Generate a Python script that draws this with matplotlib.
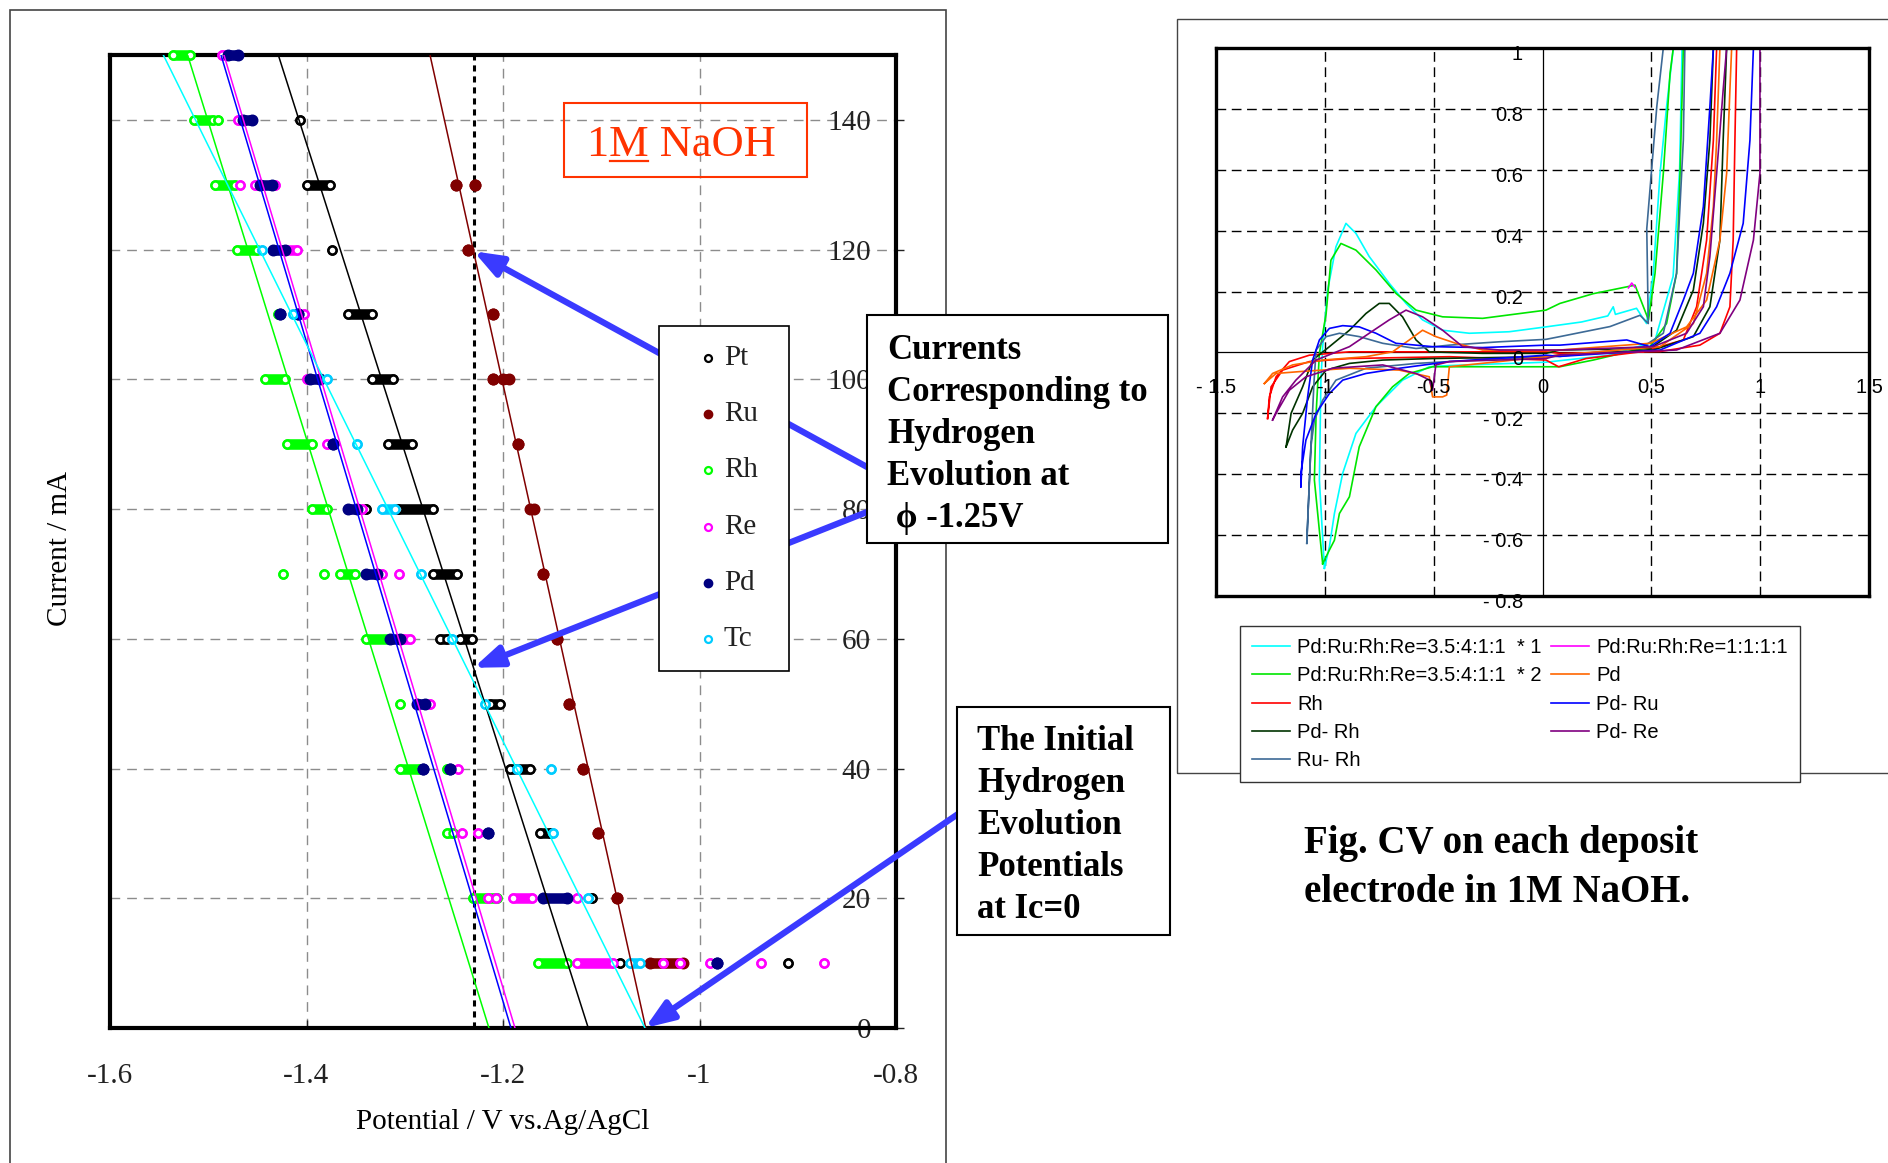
import matplotlib
matplotlib.use('Agg')
import matplotlib.pyplot as plt
from matplotlib.patches import Rectangle
from matplotlib.lines import Line2D

W, H = 1888, 1163
plt.rcParams['font.family'] = ['Liberation Serif', 'DejaVu Serif']

# ---------------- left chart: current vs potential ----------------
metals = ['Pt', 'Ru', 'Rh', 'Re', 'Pd', 'Tc']
marker_colors = ['#000000', '#800000', '#00ff00', '#ff00ff', '#000080', '#00ccff']
marker_filled = [False, True, False, False, True, False]
fit_colors = ['#000000', '#800000', '#00ff00', '#ff00ff', '#0000ff', '#00ffff']
# trend lines: potential at I = 150 mA and at I = 0
fit_top_current = 150
fit_v_top = [-1.4287, -1.2743, -1.521, -1.484, -1.487, -1.5457]
fit_v_zero = [-1.1132, -1.0547, -1.2143, -1.1878, -1.1919, -1.0555]

# measured points: (current mA, potential start, potential end) -- runs of overlapping points
pt_pts = [(140, -1.4066, -1.4066), (130, -1.399, -1.376), (120, -1.374, -1.374),
          (110, -1.358, -1.333), (100, -1.333, -1.312), (90, -1.317, -1.293),
          (80, -1.339, -1.339), (80, -1.307, -1.271), (70, -1.271, -1.247),
          (60, -1.264, -1.257), (60, -1.244, -1.232), (50, -1.213, -1.203),
          (40, -1.193, -1.173), (30, -1.162, -1.152), (20, -1.109, -1.109),
          (10, -1.081, -1.081), (10, -0.910, -0.910)]
ru_pts = [(130, -1.248, -1.248), (130, -1.229, -1.229), (120, -1.236, -1.236),
          (110, -1.210, -1.210), (100, -1.210, -1.210), (100, -1.200, -1.194),
          (90, -1.1847, -1.1847), (80, -1.173, -1.168), (70, -1.1596, -1.1596),
          (60, -1.1454, -1.1454), (50, -1.1328, -1.1328), (40, -1.1182, -1.1182),
          (30, -1.103, -1.103), (20, -1.084, -1.084), (10, -1.050, -1.017)]
rh_pts = [(150, -1.536, -1.519), (140, -1.515, -1.495), (140, -1.490, -1.490),
          (130, -1.493, -1.473), (120, -1.471, -1.450), (110, -1.429, -1.429),
          (100, -1.442, -1.422), (90, -1.420, -1.394), (80, -1.394, -1.379),
          (70, -1.424, -1.424), (70, -1.382, -1.382), (70, -1.366, -1.351),
          (60, -1.339, -1.315), (50, -1.305, -1.305), (40, -1.305, -1.284),
          (40, -1.257, -1.257), (30, -1.257, -1.251), (20, -1.231, -1.206),
          (10, -1.164, -1.135)]
re_pts = [(150, -1.486, -1.480), (140, -1.470, -1.465), (130, -1.468, -1.468),
          (130, -1.452, -1.447), (130, -1.432, -1.432), (120, -1.422, -1.410),
          (110, -1.403, -1.403), (100, -1.399, -1.399), (90, -1.379, -1.379),
          (80, -1.344, -1.344), (70, -1.323, -1.323), (70, -1.306, -1.306),
          (60, -1.302, -1.295), (50, -1.274, -1.274), (40, -1.246, -1.246),
          (30, -1.242, -1.242), (30, -1.225, -1.225), (20, -1.2156, -1.2156),
          (20, -1.2075, -1.2075), (20, -1.190, -1.170), (20, -1.125, -1.125),
          (10, -1.125, -1.088), (10, -1.037, -1.037), (10, -1.020, -1.020),
          (10, -0.989, -0.989), (10, -0.937, -0.937), (10, -0.873, -0.873)]
pd_pts = [(150, -1.480, -1.470), (140, -1.465, -1.455), (130, -1.447, -1.435),
          (120, -1.434, -1.422), (110, -1.427, -1.427), (110, -1.409, -1.409),
          (100, -1.396, -1.386), (90, -1.373, -1.373), (80, -1.358, -1.349),
          (70, -1.339, -1.328), (60, -1.315, -1.305), (50, -1.288, -1.279),
          (40, -1.281, -1.281), (40, -1.254, -1.254), (30, -1.215, -1.215),
          (20, -1.159, -1.135), (10, -0.982, -0.982)]
tc_pts = [(120, -1.445, -1.445), (110, -1.414, -1.414), (100, -1.379, -1.379),
          (90, -1.349, -1.349), (80, -1.323, -1.310), (70, -1.283, -1.283),
          (60, -1.252, -1.252), (50, -1.218, -1.218), (40, -1.186, -1.186),
          (40, -1.151, -1.151), (30, -1.149, -1.149), (20, -1.113, -1.113),
          (10, -1.071, -1.061)]
point_sets = [pt_pts, ru_pts, rh_pts, re_pts, pd_pts, tc_pts]

phi_v = -1.23          # dashed marker line (labelled phi -1.25 V)
x_ticks = [-1.6, -1.4, -1.2, -1.0, -0.8]
x_tick_labels = ['-1.6', '-1.4', '-1.2', '-1', '-0.8']
y_ticks = [0, 20, 40, 60, 80, 100, 120, 140]

# ---------------- right chart: CV curves ----------------
cv1_v = [-1.002, -1.025, -1.018, -1.010, -0.987, -0.949, -0.903, -0.857, -0.796, -0.704, -0.627,
         -0.551, -0.459, -0.336, -0.153, 0.016, 0.179, 0.300, 0.325, 0.335, 0.432, 0.478, 0.509,
         0.540, 0.570, 0.601, 0.641, 0.630, 0.600, 0.515, 0.300, 0.016, -0.428, -0.520, -0.643,
         -0.765, -0.857, -0.918, -0.956, -0.979, -1.002]
cv1_i = [-0.709, -0.419, -0.091, 0.019, 0.205, 0.347, 0.424, 0.391, 0.315, 0.227, 0.161,
         0.107, 0.073, 0.063, 0.068, 0.084, 0.100, 0.120, 0.150, 0.125, 0.145, 0.095, 0.260,
         0.588, 0.807, 1.0, 1.0, 0.600, 0.250, 0.035, -0.010, -0.032, -0.043, -0.047, -0.091,
         -0.178, -0.266, -0.397, -0.529, -0.638, -0.709]
cv2_v = [-1.010, -1.048, -1.040, -1.025, -0.994, -0.972, -0.926, -0.857, -0.765, -0.673, -0.581,
         -0.459, -0.275, 0.016, 0.080, 0.233, 0.425, 0.487, 0.517, 0.555, 0.586, 0.601, 0.647,
         0.632, 0.616, 0.570, 0.494, 0.233, 0.080, -0.275, -0.505, -0.612, -0.689, -0.765,
         -0.842, -0.887, -0.933, -0.956, -0.979, -1.010]
cv2_i = [-0.694, -0.419, -0.200, -0.003, 0.128, 0.303, 0.358, 0.336, 0.271, 0.194, 0.139,
         0.117, 0.112, 0.139, 0.161, 0.193, 0.221, 0.107, 0.260, 0.588, 0.917, 1.0, 1.0,
         0.588, 0.260, 0.095, 0.019, -0.025, -0.047, -0.047, -0.047, -0.069, -0.113, -0.178,
         -0.310, -0.474, -0.529, -0.617, -0.649, -0.694]
rh_cv_v = [-1.263, -1.255, -1.224, -1.163, -1.071, -0.887, -0.581, 0.016, 0.080, 0.540, 0.723,
           0.815, 0.861, 0.876, 0.884, 0.892, 0.800, 0.785, 0.754, 0.708, 0.647, 0.463, 0.200,
           0.074, 0.016, -0.428, -0.887, -1.071, -1.194, -1.247, -1.263]
rh_cv_i = [-0.217, -0.146, -0.080, -0.030, -0.009, 0.002, 0.002, 0.002, -0.003, 0.003, 0.024,
           0.063, 0.150, 0.369, 0.697, 1.0, 1.0, 0.697, 0.369, 0.150, 0.041, 0.003, -0.020,
           -0.047, -0.025, -0.014, -0.020, -0.030, -0.058, -0.113, -0.217]
pdrh_v = [-1.178, -1.155, -1.102, -1.056, -0.979, -0.887, -0.811, -0.750, -0.704, -0.643, -0.581,
          -0.520, -0.275, 0.016, 0.080, 0.494, 0.616, 0.693, 0.739, 0.769, 0.785, 0.846, 0.830,
          0.815, 0.769, 0.693, 0.509, 0.080, 0.016, -0.505, -0.734, -0.887, -0.994, -1.056,
          -1.102, -1.148, -1.178]
pdrh_i = [-0.310, -0.200, -0.113, -0.025, 0.019, 0.073, 0.128, 0.161, 0.161, 0.117, 0.041,
          0.002, -0.003, -0.003, 0.008, 0.013, 0.073, 0.205, 0.424, 0.697, 1.0, 1.0, 0.697,
          0.369, 0.150, 0.052, 0.008, -0.008, -0.014, -0.020, -0.025, -0.036, -0.058, -0.113,
          -0.200, -0.255, -0.310]
rurh_v = [-1.083, -1.074, -1.064, -1.050, -1.040, -0.994, -0.933, -0.842, -0.734, -0.581, -0.428,
          -0.198, 0.016, 0.080, 0.310, 0.448, 0.486, 0.479, 0.525, 0.555, 0.654, 0.647, 0.616,
          0.555, 0.463, 0.080, 0.016, -0.428, -0.581, -0.811, -0.949, -1.010, -1.048, -1.064,
          -1.074, -1.083]
rurh_i = [-0.627, -0.474, -0.310, -0.100, 0.008, 0.052, 0.063, 0.052, 0.030, 0.013, 0.024,
          0.035, 0.043, 0.052, 0.085, 0.122, 0.095, 0.406, 0.807, 1.0, 1.0, 0.697, 0.260,
          0.063, 0.019, -0.013, -0.014, -0.030, -0.036, -0.052, -0.091, -0.157, -0.222, -0.310,
          -0.474, -0.627]
cv1111_v = [0.395, 0.410, 0.425]
cv1111_i = [0.212, 0.228, 0.214]
pd_cv_v = [-1.278, -1.240, -1.148, -1.010, -0.811, -0.689, -0.612, -0.551, -0.490, -0.398, -0.275,
           0.016, 0.080, 0.494, 0.662, 0.754, 0.815, 0.846, 0.861, 0.869, 0.815, 0.800, 0.785,
           0.754, 0.693, 0.540, 0.080, 0.016, -0.428, -0.440, -0.459, -0.505, -0.520, -0.658,
           -0.887, -1.117, -1.224, -1.278]
pd_cv_i = [-0.102, -0.069, -0.041, -0.025, -0.014, 0.002, 0.041, 0.073, 0.052, 0.030, 0.008,
           0.006, 0.008, 0.030, 0.084, 0.172, 0.369, 0.588, 0.862, 1.0, 1.0, 0.697, 0.479,
           0.260, 0.095, 0.019, -0.008, -0.014, -0.047, -0.140, -0.146, -0.146, -0.080, -0.058,
           -0.052, -0.063, -0.069, -0.102]
pdru_v = [-1.110, -1.102, -1.079, -1.056, -1.025, -0.979, -0.918, -0.842, -0.765, -0.673, -0.505,
          -0.275, 0.016, 0.080, 0.387, 0.494, 0.586, 0.647, 0.693, 0.739, 0.769, 0.785, 0.969,
          0.953, 0.922, 0.861, 0.800, 0.723, 0.540, 0.080, 0.016, -0.428, -0.658, -0.811,
          -0.918, -0.979, -1.040, -1.087, -1.110, -1.110]
pdru_i = [-0.441, -0.310, -0.146, -0.025, 0.041, 0.079, 0.088, 0.084, 0.063, 0.030, 0.019,
          0.016, 0.024, 0.024, 0.041, 0.019, 0.063, 0.172, 0.260, 0.479, 0.807, 1.0, 1.0,
          0.697, 0.424, 0.260, 0.150, 0.063, 0.008, -0.013, -0.009, -0.030, -0.052, -0.069,
          -0.091, -0.135, -0.200, -0.288, -0.397, -0.441]
pdre_v = [-1.240, -1.194, -1.133, -1.040, -0.887, -0.796, -0.704, -0.627, -0.551, -0.459, -0.367,
          -0.198, 0.016, 0.080, 0.509, 0.662, 0.739, 0.769, 0.800, 0.830, 0.846, 0.999, 0.999,
          0.969, 0.907, 0.815, 0.616, 0.080, 0.016, -0.428, -0.490, -0.505, -0.520, -0.581,
          -0.734, -0.964, -1.087, -1.163, -1.224, -1.240]
pdre_i = [-0.222, -0.146, -0.091, -0.025, 0.019, 0.063, 0.107, 0.139, 0.117, 0.073, 0.019,
          0.008, 0.008, 0.008, 0.019, 0.063, 0.150, 0.315, 0.588, 0.862, 1.0, 1.0, 0.588,
          0.369, 0.172, 0.063, 0.008, -0.008, -0.020, -0.030, -0.041, -0.124, -0.090, -0.069,
          -0.041, -0.052, -0.080, -0.124, -0.200, -0.222]

cv_labels = ['Pd:Ru:Rh:Re=3.5:4:1:1  * 1', 'Pd:Ru:Rh:Re=3.5:4:1:1  * 2', 'Rh', 'Pd- Rh',
             'Ru- Rh', 'Pd:Ru:Rh:Re=1:1:1:1', 'Pd', 'Pd- Ru', 'Pd- Re']
cv_colors = ['#00ffff', '#00e600', '#ff0000', '#003300', '#3d6a96', '#ff00ff', '#ff6600',
             '#0000ff', '#800080']
cv_data = [(cv1_v, cv1_i), (cv2_v, cv2_i), (rh_cv_v, rh_cv_i), (pdrh_v, pdrh_i), (rurh_v, rurh_i),
           (cv1111_v, cv1111_i), (pd_cv_v, pd_cv_i), (pdru_v, pdru_i), (pdre_v, pdre_i)]
cv_xticks = [-1.5, -1, -0.5, 0, 0.5, 1, 1.5]
cv_xlabels = ['- 1.5', '-1', '-0.5', '0', '0.5', '1', '1.5']
cv_yticks = [1, 0.8, 0.6, 0.4, 0.2, 0, -0.2, -0.4, -0.6, -0.8]
cv_ylabels = ['1', '0.8', '0.6', '0.4', '0.2', '0', '- 0.2', '- 0.4', '- 0.6', '- 0.8']


def fx(px):
    return px / W


def fy(py):
    return 1 - py / H


fig = plt.figure(figsize=(W / 100, H / 100), dpi=100)

# ---- left axes ----
ax = fig.add_axes([fx(110), fy(1028), 786 / W, 973 / H])
ax.set_xlim(-1.6, -0.8)
ax.set_ylim(0, 150)
ax.set_xticks(x_ticks, labels=x_tick_labels)
ax.yaxis.tick_right()
ax.set_yticks(y_ticks, labels=[str(v) for v in y_ticks], ha='right')
ax.tick_params(axis='x', direction='in', length=6, width=1, pad=25, labelsize=21, colors='#222222')
ax.tick_params(axis='y', direction='out', length=6, width=1, pad=-24, labelsize=21, colors='#222222')
ax.grid(True, color='#8c8c8c', lw=1, ls=(0, (7, 5)))
ax.set_axisbelow(True)
for sp in ax.spines.values():
    sp.set_linewidth(3)
ax.axvline(phi_v, color='black', lw=2.2, ls=(0, (2, 1.6)), zorder=2)

for name, pts, col, full in zip(metals, point_sets, marker_colors, marker_filled):
    for cur, v0, v1 in pts:
        if v1 > v0:
            ax.plot([v0, v1], [cur, cur], color=col, lw=7.6, solid_capstyle='round',
                    zorder=3, clip_on=False)
        if full:
            ax.plot([v0, v1], [cur, cur], 'o', ms=7.6, color=col, zorder=3.1, clip_on=False)
        else:
            ax.plot([v0, v1], [cur, cur], 'o', ms=5.8, mfc='white', mec=col, mew=1.8,
                    zorder=3.1, clip_on=False)

for vt, v0, col in zip(fit_v_top, fit_v_zero, fit_colors):
    ax.plot([v0, vt], [0, fit_top_current], color=col, lw=1.1, zorder=4)

ax.set_xlabel('Potential / V vs.Ag/AgCl', fontsize=21, va='center')
ax.xaxis.set_label_coords(0.5, -0.0966)
ax.set_ylabel('Current / mA', fontsize=21, va='center')
ax.yaxis.set_label_position('left')
ax.yaxis.set_label_coords(-0.047, 0.493)


# currents on the trend lines where they cross the dashed phi line
def current_at(k, v):
    return fit_top_current * (fit_v_zero[k] - v) / (fit_v_zero[k] - fit_v_top[k])


arrow_kw = dict(arrowstyle='-|>,head_length=0.85,head_width=0.32', color='#3a3aff', lw=4.5,
                shrinkA=0, shrinkB=0, mutation_scale=20)
ax.annotate('', xy=(phi_v, current_at(1, phi_v)), xytext=(867, H - 467),
            textcoords='figure pixels', arrowprops=arrow_kw, annotation_clip=False, zorder=6)
ax.annotate('', xy=(phi_v, current_at(0, phi_v)), xytext=(867, H - 512),
            textcoords='figure pixels', arrowprops=arrow_kw, annotation_clip=False, zorder=6)
ax.annotate('', xy=(fit_v_zero[5], 0), xytext=(958, H - 814),
            textcoords='figure pixels', arrowprops=arrow_kw, annotation_clip=False, zorder=6)

# outer frames of the two panels
fig.add_artist(Rectangle((fx(10), fy(1175)), 936 / W, 1165 / H, transform=fig.transFigure,
                         fill=False, edgecolor='#444444', lw=1.2, zorder=-1))
fig.add_artist(Rectangle((fx(1177), fy(773)), 730 / W, 754 / H, transform=fig.transFigure,
                         fill=False, edgecolor='#444444', lw=1.0, zorder=-1))

# manual legend for the left chart
fig.add_artist(Rectangle((fx(659), fy(671)), 130 / W, 345 / H, transform=fig.transFigure,
                         facecolor='white', edgecolor='black', lw=1.2, zorder=5))
for k, (name, col, full) in enumerate(zip(metals, marker_colors, marker_filled)):
    yy = fy(358 + k * 56.2)
    if full:
        mk = dict(marker='o', ms=6, color=col)
    else:
        mk = dict(marker='o', ms=5, mfc='white', mec=col, mew=1.6)
    fig.add_artist(Line2D([fx(708)], [yy], transform=fig.transFigure, zorder=6, **mk))
    fig.text(fx(724), yy, name, va='center', ha='left', fontsize=21, zorder=6, color='#222222')

# 1M NaOH label
naoh_color = '#ff3300'
fig.add_artist(Rectangle((fx(564), fy(177)), 243 / W, 74 / H, transform=fig.transFigure,
                         fill=False, edgecolor=naoh_color, lw=1.5, zorder=5))
naoh_props = dict(fontsize=32, color=naoh_color, va='baseline', ha='left', zorder=6)
fig.text(fx(587), fy(156), '1M NaOH', **naoh_props)
fig.canvas.draw()
rend = fig.canvas.get_renderer()
tmp1 = fig.text(fx(587), fy(156), '1', **naoh_props)
tmp2 = fig.text(fx(587), fy(156), '1M', **naoh_props)
w1 = tmp1.get_window_extent(rend).width
w2 = tmp2.get_window_extent(rend).width
tmp1.remove()
tmp2.remove()
fig.add_artist(Line2D([fx(587 + w1 + 1), fx(587 + w2 - 1)], [fy(161), fy(161)],
                      transform=fig.transFigure, color=naoh_color, lw=1.6, zorder=6))

# text boxes
box_txt = dict(fontsize=25, weight='bold', ha='left', va='center', linespacing=1.36, zorder=6)
fig.add_artist(Rectangle((fx(867), fy(543)), 301 / W, 228 / H, transform=fig.transFigure,
                         facecolor='white', edgecolor='black', lw=1.5, zorder=5))
fig.text(fx(887), fy(435), 'Currents\nCorresponding to\nHydrogen\nEvolution at\n \u03d5 -1.25V',
         **box_txt)
fig.add_artist(Rectangle((fx(957), fy(935)), 213 / W, 228 / H, transform=fig.transFigure,
                         facecolor='white', edgecolor='black', lw=1.5, zorder=5))
fig.text(fx(977), fy(826), 'The Initial\nHydrogen\nEvolution\nPotentials\nat Ic=0', **box_txt)

fig.text(fx(1304), fy(868), 'Fig. CV on each deposit\nelectrode in 1M NaOH.', fontsize=28,
         weight='bold', ha='left', va='center', linespacing=1.42)

# ---- right axes: CV ----
axr = fig.add_axes([fx(1216), fy(596), 653 / W, 548 / H])
axr.set_xlim(-1.5, 1.5)
axr.set_ylim(-0.8, 1.0)
axr.set_xticks([-1, -0.5, 0.5, 1])
axr.set_yticks([-0.6, -0.4, -0.2, 0.2, 0.4, 0.6, 0.8])
axr.tick_params(length=0, labelbottom=False, labelleft=False)
axr.grid(True, color='black', lw=1, ls=(0, (7, 4)))
axr.set_axisbelow(True)
for sp in axr.spines.values():
    sp.set_linewidth(2.4)
axr.axhline(0, color='black', lw=0.9, zorder=1)
axr.axvline(0, color='black', lw=0.9, zorder=1)

for (vv, ii), lab, col in zip(cv_data, cv_labels, cv_colors):
    axr.plot(vv, ii, color=col, lw=1.2, label=lab)

sans = ['Liberation Sans', 'DejaVu Sans']
for v, s in zip(cv_xticks, cv_xlabels):
    axr.text(v, -0.115, s, ha='center', va='center', fontsize=14.5, family=sans, clip_on=False)
for v, s in zip(cv_yticks, cv_ylabels):
    axr.text(-0.09, v - 0.022, s, ha='right', va='center', fontsize=14.5, family=sans,
             clip_on=False)

leg = axr.legend(loc='upper left', bbox_to_anchor=(fx(1240), fy(626)),
                 bbox_transform=fig.transFigure, ncol=2, fancybox=False,
                 prop={'family': sans, 'size': 14.5}, handlelength=1.9, handletextpad=0.35,
                 labelspacing=0.46, borderpad=0.6, columnspacing=0.45, framealpha=1,
                 edgecolor='#333333', borderaxespad=0)
leg.get_frame().set_linewidth(1.0)

fig.savefig('out.png', dpi=100)
